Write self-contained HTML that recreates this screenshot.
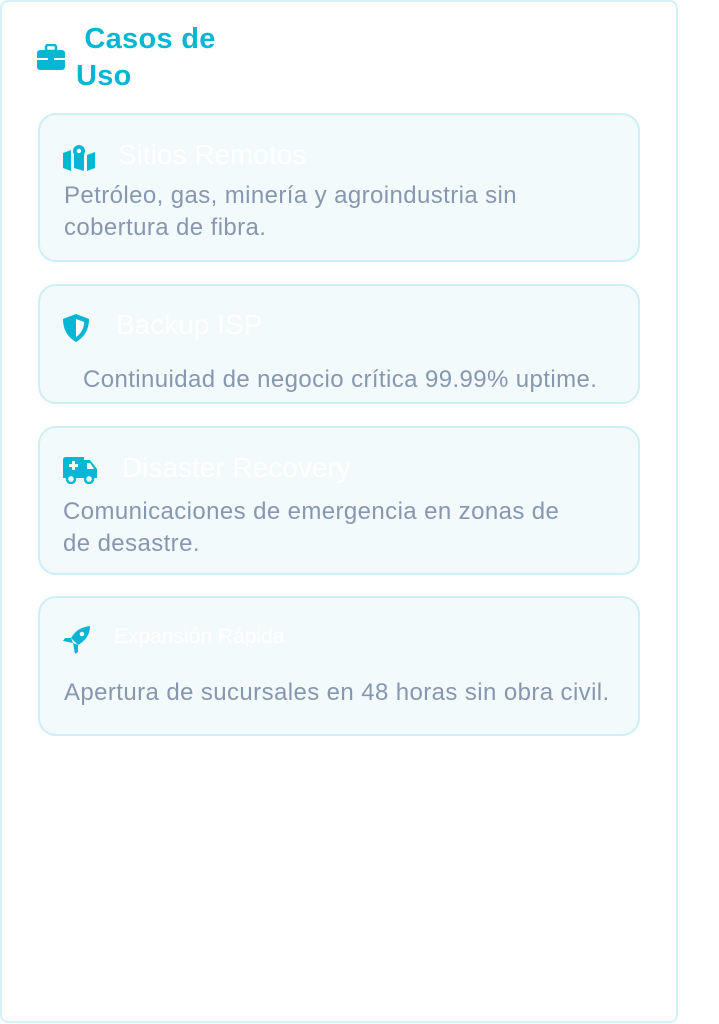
<!DOCTYPE html>
<html><head><meta charset="utf-8"><style>
body{margin:0;width:719px;height:1024px;background:#fff;font-family:"Liberation Sans",sans-serif;position:relative;overflow:hidden}
.panel{position:absolute;left:0px;top:0px;width:678px;height:1023px;border:2px solid #d4f1f8;border-radius:8px;box-sizing:border-box}
.title{position:absolute;left:76px;top:21px;color:#06b6d4;font-weight:bold;font-size:29px;line-height:37px;letter-spacing:0.3px}
.card{position:absolute;left:38px;width:602px;border:2px solid #cdeff6;border-radius:18px;background:#f2fafc;box-sizing:border-box}
.ct{position:absolute;color:#fff;font-size:28px}
.tx{position:absolute;color:#8797b0;font-size:24px;line-height:32px;letter-spacing:0.4px;white-space:nowrap}
svg{position:absolute}
</style></head><body>
<div class="panel"></div>
<svg style="left:37px;top:44px" width="28" height="26" viewBox="0 0 28 26"><rect x="9" y="1" width="10" height="6" rx="2" fill="none" stroke="#06b6d4" stroke-width="2.5"/><rect x="0" y="6" width="28" height="20" rx="3" fill="#06b6d4"/><rect x="0" y="14" width="28" height="2" fill="#fff"/><rect x="11" y="12" width="6" height="6" fill="#06b6d4"/></svg>
<div class="title">&nbsp;Casos de<br>Uso</div>

<div class="card" style="top:113px;height:149px"></div>
<svg style="left:63px;top:144px" width="32" height="27" viewBox="0 0 32 27"><path d="M0 9 L8 6 L8 27 L0 24Z M11 8 L21 11 L21 27 L11 24Z M24 11 L32 8 L32 24 L24 27Z" fill="#06b6d4"/><circle cx="16" cy="7" r="6" fill="#06b6d4"/><circle cx="16" cy="7" r="2.2" fill="#fff"/><path d="M11 9 L16 18 L21 9Z" fill="#06b6d4"/></svg>
<div class="ct" style="left:118px;top:139px">Sitios Remotos</div>
<div class="tx" style="left:64px;top:180px">Petróleo, gas, minería y agroindustria sin<br>cobertura de fibra.</div>

<div class="card" style="top:284px;height:120px"></div>
<svg style="left:63px;top:314px" width="26" height="28" viewBox="0 0 26 28"><path d="M13 0 L26 5 C26 17 20 24 13 28 C6 24 0 17 0 5Z" fill="#06b6d4"/><path d="M13 5 L21 8 C21 16 17 20 13 23Z" fill="#fff"/></svg>
<div class="ct" style="left:116px;top:309px">Backup ISP</div>
<div class="tx" style="left:83px;top:364px">Continuidad de negocio crítica 99.99% uptime.</div>

<div class="card" style="top:426px;height:149px"></div>
<svg style="left:63px;top:457px" width="35" height="27" viewBox="0 0 35 27"><path d="M0 3 Q0 0 3 0 L21 0 L21 3 L27 3 L34 12 L34 21 L0 21Z" fill="#06b6d4"/><circle cx="8" cy="22" r="4" fill="#fff" stroke="#06b6d4" stroke-width="2.5"/><circle cx="26" cy="22" r="4" fill="#fff" stroke="#06b6d4" stroke-width="2.5"/><path d="M24 6 L27 6 L31 12 L24 12Z" fill="#fff"/><path d="M9 4 h3 v3 h3 v3 h-3 v3 h-3 v-3 h-3 v-3 h3z" fill="#fff"/></svg>
<div class="ct" style="left:122px;top:452px">Disaster Recovery</div>
<div class="tx" style="left:63px;top:496px">Comunicaciones de emergencia en zonas de<br>de desastre.</div>

<div class="card" style="top:596px;height:140px"></div>
<svg style="left:63px;top:626px" width="28" height="28" viewBox="0 0 28 28"><path d="M27 0 C18 1 12 5 8 12 L15 19 C22 15 27 9 27 0Z" fill="#06b6d4"/><path d="M8 12 L2 12 L0 15 L10 17Z M15 19 L15 26 L12 28 L10 17Z" fill="#06b6d4"/><circle cx="19" cy="8" r="2.3" fill="#fff"/></svg>
<div class="ct" style="left:114px;top:625px;font-size:21px">Expansión Rápida</div>
<div class="tx" style="left:64px;top:677px">Apertura de sucursales en 48 horas sin obra civil.</div>
</body></html>
